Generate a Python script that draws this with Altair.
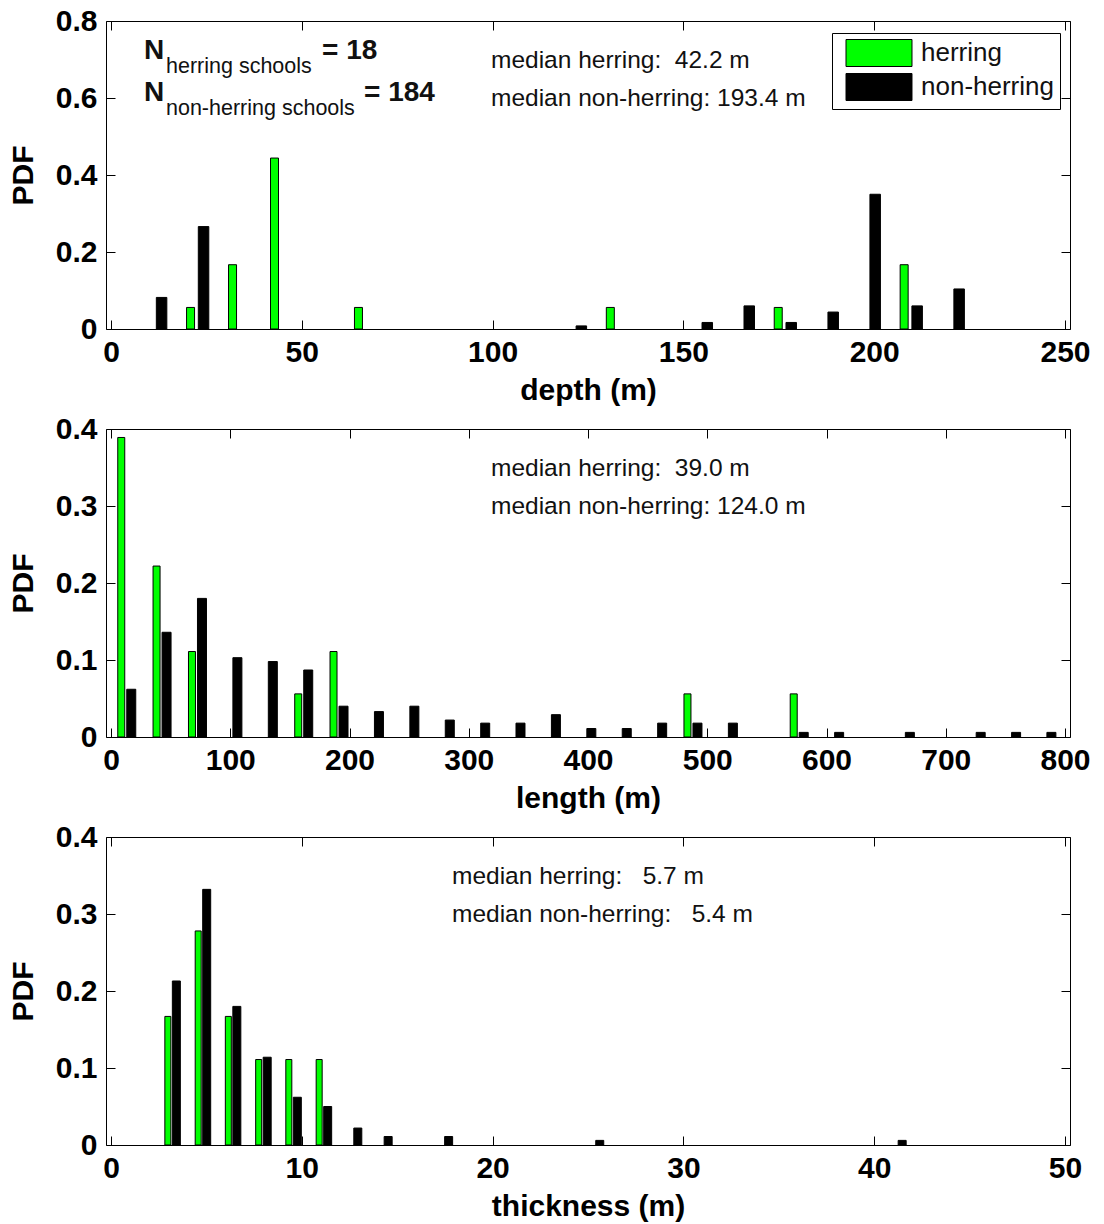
import altair as alt
import pandas as pd

# ---------------- data: bin centres and PDF values ----------------
DEPTH_HERRING_BINS = [22.5, 33.5, 44.5, 66.5, 132.5, 176.5, 209.5]
DEPTH_HERRING_PDF = [0.056, 0.167, 0.444, 0.056, 0.056, 0.056, 0.167]
DEPTH_OTHER_BINS = [11.5, 22.5, 121.5, 154.5, 165.5, 176.5, 187.5, 198.5, 209.5, 220.5]
DEPTH_OTHER_PDF = [0.082, 0.266, 0.008, 0.017, 0.060, 0.017, 0.044, 0.350, 0.060, 0.104]

LENGTH_HERRING_BINS = [12.8, 42.4, 72.1, 161.2, 190.8, 487.6, 576.7]
LENGTH_HERRING_PDF = [0.389, 0.222, 0.111, 0.056, 0.111, 0.056, 0.056]
LENGTH_OTHER_BINS = [12.8, 42.4, 72.1, 101.8, 131.5, 161.2, 190.8, 220.5, 250.2,
                     279.9, 309.6, 339.2, 368.9, 398.6, 428.3, 458.0, 487.6,
                     517.3, 576.7, 606.4, 665.7, 725.1, 754.8, 784.4]
LENGTH_OTHER_PDF = [0.062, 0.136, 0.180, 0.103, 0.098, 0.087, 0.040, 0.033, 0.040,
                    0.022, 0.018, 0.018, 0.029, 0.011, 0.011, 0.018, 0.018,
                    0.018, 0.006, 0.006, 0.006, 0.006, 0.006, 0.006]

THICK_HERRING_BINS = [3.2, 4.79, 6.37, 7.96, 9.54, 11.13]
THICK_HERRING_PDF = [0.167, 0.278, 0.167, 0.111, 0.111, 0.111]
THICK_OTHER_BINS = [3.2, 4.79, 6.37, 7.96, 9.54, 11.13, 12.71, 14.3, 17.47, 25.39, 41.24]
THICK_OTHER_PDF = [0.213, 0.332, 0.180, 0.114, 0.062, 0.050, 0.022, 0.011, 0.011, 0.006, 0.006]

SERIES = ["herring", "non-herring"]
SERIES_COLORS = ["#00ff00", "#000000"]

DEPTH_NOTES = ["median herring:\u00a0\u00a042.2 m", "median non-herring: 193.4 m"]
LENGTH_NOTES = ["median herring:\u00a0\u00a039.0 m", "median non-herring: 124.0 m"]
THICK_NOTES = ["median herring:\u00a0\u00a0\u00a05.7 m", "median non-herring:\u00a0\u00a0\u00a05.4 m"]

COUNT_LINES = [("N", "herring schools", "= 18"), ("N", "non-herring schools", "= 184")]

# ---------------- styling ----------------
FONT = "Liberation Sans"
W, H = 964, 308
TICK = 9
AXIS_FS = 30


def tick_axis(values, orient, offset):
    """Ticks only, pointing into the plot (drawn on the opposite edge)."""
    return alt.Axis(values=values, orient=orient, offset=offset, labels=False,
                    domain=False, grid=False, ticks=True, tickSize=TICK,
                    tickColor="black", tickWidth=1, title=None)


def note(text, x, y, size, weight="normal"):
    return (alt.Chart(pd.DataFrame({"label": [text]}))
            .mark_text(align="left", baseline="alphabetic", font=FONT,
                       fontSize=size, fontWeight=weight, color="#111111")
            .encode(x=alt.value(x), y=alt.value(y), text="label:N"))


def panel(h_bins, h_pdf, o_bins, o_pdf, xmax, xstep, ymax, ystep, xtitle,
          geom, notes, note_x, legend=False, extras=()):
    gw, gx, bw, bx = geom
    xs = alt.Scale(domain=[0, xmax], nice=False)
    ys = alt.Scale(domain=[0, ymax], nice=False)
    xt = list(range(0, xmax + 1, xstep))
    yt = [round(i * ystep, 1) for i in range(int(round(ymax / ystep)) + 1)]

    x_lab = alt.Axis(values=xt, title=xtitle, format="d", domain=False, grid=False,
                     ticks=False, tickSize=0, labelPadding=8, labelFlush=False,
                     labelOverlap=False, labelFont=FONT, labelFontSize=AXIS_FS,
                     labelFontWeight="bold", labelColor="black", titleFont=FONT,
                     titleFontSize=AXIS_FS, titleFontWeight="bold", titleColor="black",
                     titlePadding=8)
    y_lab = alt.Axis(values=yt, title="PDF", format=".1~f", domain=False, grid=False,
                     ticks=False, tickSize=0, labelPadding=9, labelFlush=False,
                     labelOverlap=False, labelFont=FONT, labelFontSize=AXIS_FS,
                     labelFontWeight="bold", labelColor="black", titleFont=FONT,
                     titleFontSize=AXIS_FS, titleFontWeight="bold", titleColor="black",
                     titlePadding=17)

    color_scale = alt.Scale(domain=SERIES, range=SERIES_COLORS)
    if legend:
        leg = alt.Legend(title=None, orient="none", legendX=726, legendY=12,
                         direction="vertical",
                         symbolType="M-2.444,-1L2.444,-1L2.444,1L-2.444,1Z",
                         symbolSize=729, symbolStrokeColor="black",
                         symbolStrokeWidth=1, symbolOpacity=1, symbolOffset=27,
                         labelOffset=28, labelFont=FONT, labelFontSize=26,
                         labelColor="#111111", rowPadding=2, padding=6,
                         strokeColor="black", fillColor="white", labelLimit=400)
    else:
        leg = None

    hdf = pd.DataFrame({"bin": h_bins, "pdf": h_pdf, "series": SERIES[0]})
    odf = pd.DataFrame({"bin": o_bins, "pdf": o_pdf, "series": SERIES[1]})

    green = alt.Chart(hdf).mark_bar(stroke="black", strokeWidth=1, size=gw,
                                    xOffset=gx, opacity=1).encode(
        x=alt.X("bin:Q", scale=xs, axis=x_lab),
        y=alt.Y("pdf:Q", scale=ys, axis=y_lab),
        color=alt.Color("series:N", scale=color_scale, legend=leg),
    )
    black = alt.Chart(odf).mark_bar(stroke="black", strokeWidth=1, size=bw,
                                    xOffset=bx, opacity=1).encode(
        x=alt.X("bin:Q", scale=xs, axis=tick_axis(xt, "top", -H)),
        y=alt.Y("pdf:Q", scale=ys, axis=tick_axis(yt, "right", -W)),
        color=alt.Color("series:N", scale=color_scale, legend=leg),
    )
    frame = alt.Chart(odf).mark_point(opacity=0).encode(
        x=alt.X("bin:Q", scale=xs, axis=tick_axis(xt, "bottom", -H)),
        y=alt.Y("pdf:Q", scale=ys, axis=tick_axis(yt, "left", -W)),
    )
    texts = [note(notes[0], note_x, 47, 24.5), note(notes[1], note_x, 85, 24.5)]
    return (alt.layer(green, black, frame, *texts, *extras)
            .resolve_axis(x="independent", y="independent")
            .properties(width=W, height=H))


# sample-size annotation with subscripts (top panel)
count_marks = []
for (big, sub, eq), base, sub_end in zip(COUNT_LINES, [38, 80], [216, 258]):
    count_marks += [note(big, 38, base, 28, "bold"),
                    note(sub, 60, base + 14, 21.5),
                    note(eq, sub_end, base, 28, "bold")]

p_depth = panel(DEPTH_HERRING_BINS, DEPTH_HERRING_PDF, DEPTH_OTHER_BINS, DEPTH_OTHER_PDF,
                250, 50, 0.8, 0.2, "depth (m)", (8, -6.3, 10.5, 6.7),
                DEPTH_NOTES, 385, legend=True, extras=count_marks)
p_length = panel(LENGTH_HERRING_BINS, LENGTH_HERRING_PDF, LENGTH_OTHER_BINS, LENGTH_OTHER_PDF,
                 800, 100, 0.4, 0.1, "length (m)", (7, -5, 9, 5),
                 LENGTH_NOTES, 385)
p_thick = panel(THICK_HERRING_BINS, THICK_HERRING_PDF, THICK_OTHER_BINS, THICK_OTHER_PDF,
                50, 10, 0.4, 0.1, "thickness (m)", (6, -4.2, 8, 4.3),
                THICK_NOTES, 346)

chart = (alt.vconcat(p_depth, p_length, p_thick, spacing=100, bounds="flush")
         .resolve_scale(color="independent")
         .configure_view(stroke="black", strokeWidth=1, fill="white")
         .properties(padding={"left": 7, "top": 5, "right": 5, "bottom": 5},
                     background="white"))

chart.save("out.html", embed_options={"renderer": "svg", "actions": False})
